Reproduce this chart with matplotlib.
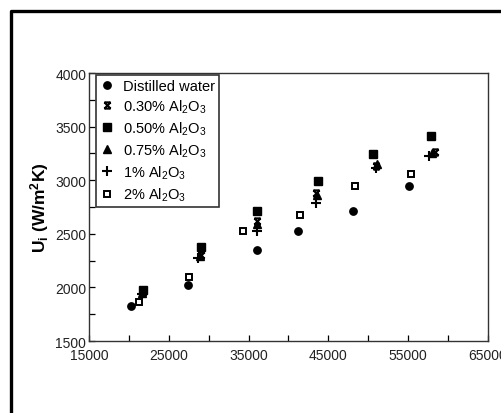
import matplotlib
matplotlib.use('Agg')
import matplotlib.pyplot as plt
from matplotlib.path import Path
from matplotlib.lines import Line2D
import numpy as np

plt.rcParams['font.family'] = ['Liberation Sans', 'DejaVu Sans']
plt.rcParams['mathtext.fontset'] = 'custom'
plt.rcParams['mathtext.rm'] = 'Liberation Sans'
plt.rcParams['mathtext.it'] = 'Liberation Sans'
plt.rcParams['mathtext.bf'] = 'Liberation Sans:bold'

# Reynolds-like x values and U_i values per fluid
labels = ['Distilled water', r'0.30% Al$_2$O$_3$', r'0.50% Al$_2$O$_3$',
          r'0.75% Al$_2$O$_3$', r'1% Al$_2$O$_3$', r'2% Al$_2$O$_3$']
x_water = [20300, 27400, 36100, 41200, 48100, 55100]
y_water = [1830, 2020, 2350, 2530, 2710, 2950]
x_030 = [21800, 29000, 36100, 43500, 51000, 58300]
y_030 = [1960, 2300, 2620, 2880, 3130, 3260]
x_050 = [21800, 29000, 36100, 43700, 50600, 57800]
y_050 = [1980, 2380, 2710, 2990, 3240, 3410]
x_075 = [21700, 28900, 36000, 43600, 51100, 58000]
y_075 = [1950, 2290, 2590, 2860, 3150, 3250]
x_1 = [21600, 28700, 36000, 43400, 51000, 57600]
y_1 = [1940, 2270, 2530, 2790, 3110, 3230]
x_2 = [21300, 27500, 34300, 41400, 48300, 55300]
y_2 = [1860, 2100, 2530, 2680, 2950, 3060]

# hourglass-with-x marker for the 0.30% series
hourglass = Path([(-1, 1), (1, -1), (1, 1), (-1, -1), (-1, 1), (1, 1), (-1, -1), (1, -1)],
                 [Path.MOVETO, Path.LINETO, Path.MOVETO, Path.LINETO,
                  Path.MOVETO, Path.LINETO, Path.MOVETO, Path.LINETO])

fig = plt.figure(figsize=(5.02, 4.14), dpi=100)
ax = fig.add_axes([0.1773, 0.1739, 0.7948, 0.6473])

ax.plot(x_water, y_water, 'o', color='black', ms=5.3, ls='none', label=labels[0])
ax.plot(x_030, y_030, marker=hourglass, color='black', ms=4.5, mew=1.5, ls='none', label=labels[1])
ax.plot(x_050, y_050, 's', color='black', ms=5.3, ls='none', label=labels[2])
ax.plot(x_075, y_075, '^', color='black', ms=5.3, ls='none', label=labels[3])
ax.plot(x_1, y_1, '+', color='black', ms=6.5, mew=1.5, ls='none', label=labels[4])
ax.plot(x_2, y_2, 's', mfc='white', mec='black', mew=1.4, ms=4.5, ls='none', label=labels[5])

ax.set_xlim(15000, 65000)
ax.set_ylim(1500, 4000)
ax.set_xticks(np.arange(15000, 65001, 10000))
ax.set_xticks(np.arange(20000, 65000, 10000), minor=True)
ax.set_yticks(np.arange(1500, 4001, 500))
ax.set_yticks(np.arange(1750, 4000, 500), minor=True)
ax.tick_params(which='both', direction='in', length=4, width=0.9, labelsize=10,
               labelcolor='#222222', pad=2)
ax.tick_params(axis='x', pad=5)
for s in ax.spines.values():
    s.set_linewidth(1.0)
    s.set_color('#333333')

ax.set_ylabel(r'$\mathbf{U_i}$ (W/m$^\mathbf{2}$K)', fontsize=12.5, fontweight='bold',
              labelpad=3)

leg = ax.legend(loc='upper left', bbox_to_anchor=(0.0175, 0.9925), borderaxespad=0,
                fontsize=10.5, frameon=True, fancybox=False, edgecolor='#333333',
                framealpha=1, handlelength=1.0, handletextpad=0.6, labelspacing=0.32,
                borderpad=0.25, numpoints=1)
leg.get_frame().set_linewidth(1.2)

# black frame around the picture (left and top edges)
fig.add_artist(Line2D([11 / 502, 11 / 502, 1.0], [0.0, 1 - 12 / 414, 1 - 12 / 414],
                      transform=fig.transFigure, color='black', lw=2.4))

fig.savefig('out.png', dpi=100)
